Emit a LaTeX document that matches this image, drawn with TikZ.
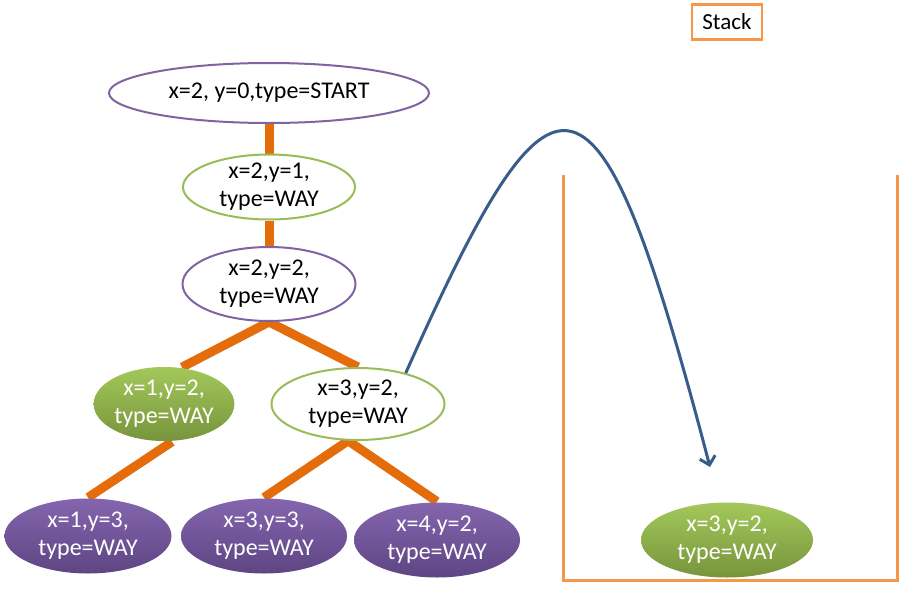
\documentclass[tikz,border=0pt]{standalone}
\usepackage{fontspec}
\setmainfont{Carlito}
\usetikzlibrary{shapes.geometric,arrows.meta}
\pgfdeclarelayer{background}
\pgfdeclarelayer{bottommost}
\pgfsetlayers{bottommost,background,main}
\definecolor{ogline}{HTML}{E46C0A}
\definecolor{stackor}{HTML}{F79646}
\definecolor{purpl}{HTML}{8064A2}
\definecolor{purtop}{HTML}{8465AE}
\definecolor{purbot}{HTML}{5E4583}
\definecolor{grn}{HTML}{9BBB59}
\definecolor{grntop}{HTML}{A3C85A}
\definecolor{grnbot}{HTML}{77943C}
\definecolor{arrblue}{HTML}{385D8A}
\tikzset{
  base/.style={ellipse, inner xsep=0pt, inner ysep=-4pt, align=center,
    font=\fontsize{24}{28}\selectfont, line width=2pt},
  wpurple/.style={base, draw=purpl, fill=white},
  wgreen/.style={base, draw=grn, fill=white},
  fgreen/.style={base, top color=grntop, bottom color=grnbot, draw=none, text=white},
  fpurple/.style={base, top color=purtop, bottom color=purbot, draw=none, text=white},
  branch/.style={draw=ogline, line width=9pt, line cap=butt},
  stackwall/.style={draw=stackor, line width=3pt},
  moveto/.style={draw=arrblue, line width=3pt, -{Straight Barb[length=8pt,width=16pt,line width=3pt]}}
}
\begin{document}
\begin{tikzpicture}[x=1pt,y=-1pt]
\useasboundingbox (0,0) rectangle (900,600);
\begin{pgfonlayer}{bottommost}
\fill[white] (0,0) rectangle (900,600);
\end{pgfonlayer}
% stack container
\path[fill=white] (563,175) rectangle (897,580);
\draw[stackwall] (563,175) -- (563,580) -- (897,580) -- (897,175);
\node[draw=stackor, line width=2.5pt, minimum width=70pt, minimum height=35pt, inner sep=0pt,
  font=\fontsize{23}{28}\selectfont] (stacklbl) at (727,22) {Stack};
% tree nodes
\node[wpurple, minimum width=320pt, minimum height=60pt] (start) at (269,93) {x=2, y=0,type=START};
\node[wgreen, minimum width=172pt, minimum height=65pt] (n21) at (269,187) {x=2,y=1,\\type=WAY};
\node[wpurple, minimum width=173pt, minimum height=74pt] (n22) at (269,284) {x=2,y=2,\\type=WAY};
\node[fgreen, minimum width=140pt, minimum height=74pt] (n12) at (164,404) {x=1,y=2,\\type=WAY};
\node[wgreen, minimum width=173pt, minimum height=72pt] (n32) at (358,404) {x=3,y=2,\\type=WAY};
\node[fpurple, minimum width=167pt, minimum height=75pt] (n13) at (88,536) {x=1,y=3,\\type=WAY};
\node[fpurple, minimum width=166pt, minimum height=75pt] (n33) at (264,536) {x=3,y=3,\\type=WAY};
\node[fpurple, minimum width=166pt, minimum height=75pt] (n42) at (437,540) {x=4,y=2,\\type=WAY};
\node[fgreen, minimum width=172pt, minimum height=75pt] (s32) at (727,540) {x=3,y=2,\\type=WAY};
% connectors
\begin{pgfonlayer}{background}
\draw[branch] (start.south) -- (n21.north);
\draw[branch] (n21.south) -- (n22.north);
\draw[branch] (n22.south) -- (n12.64);
\draw[branch] (n22.south) -- (n32.north);
\draw[branch] (n12.-78) -- (n13.north);
\draw[branch] (n32.-105) -- (n33.north);
\draw[branch] (n32.-105) -- (n42.north);
\end{pgfonlayer}
\coordinate (drop) at (710,467);
\draw[moveto] (n32.33) .. controls (556,36) and (597,36) .. (drop);
\end{tikzpicture}
\end{document}
